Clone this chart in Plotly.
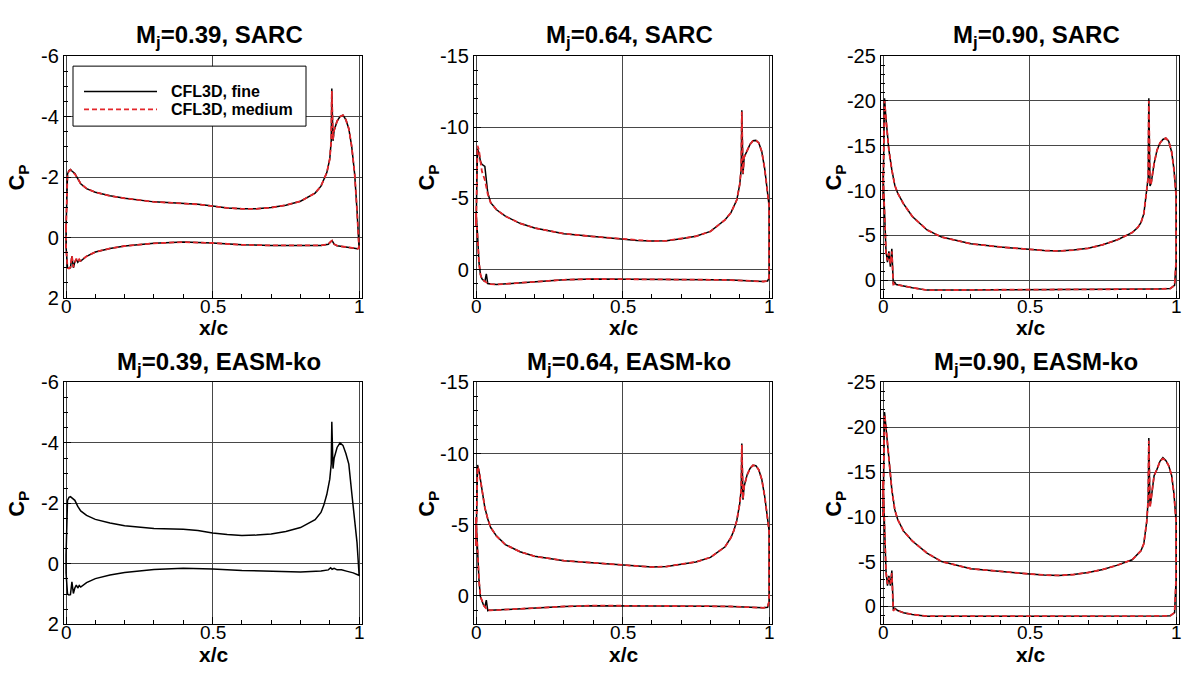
import plotly.graph_objects as go

W, H = 1183, 673
FONT = "Liberation Sans, Arial, Helvetica, sans-serif"

# Chordwise stations: upper surface (LE -> TE) and lower surface (TE -> LE)
XU = [0.0, 0.002, 0.005, 0.01, 0.015, 0.02, 0.03, 0.04, 0.05, 0.07, 0.1, 0.15, 0.2,
      0.3, 0.4, 0.45, 0.5, 0.55, 0.6, 0.65, 0.7, 0.75, 0.8, 0.85, 0.87, 0.88, 0.89,
      0.9, 0.905, 0.907, 0.911, 0.915, 0.925, 0.935, 0.945, 0.955, 0.965, 0.975,
      0.985, 0.993, 1.0]
XL = [1.0, 0.995, 0.98, 0.96, 0.94, 0.925, 0.915, 0.908, 0.903, 0.895, 0.87, 0.8,
      0.7, 0.6, 0.5, 0.4, 0.3, 0.2, 0.15, 0.1, 0.07, 0.05, 0.045, 0.04, 0.035, 0.03,
      0.025, 0.02, 0.015, 0.01, 0.005, 0.0]

# Mj = 0.39, SARC
CP_U_039_SARC_FINE = [-0.3, -1.5, -2.1, -2.22, -2.25, -2.2, -2.12, -1.95, -1.78, -1.62, -1.5,
                      -1.38, -1.3, -1.18, -1.14, -1.1, -1.04, -0.98, -0.95, -0.95, -0.99, -1.07,
                      -1.2, -1.47, -1.7, -1.9, -2.15, -2.6, -3.2, -4.93, -3.2, -3.55, -3.85,
                      -4.0, -4.05, -3.9, -3.6, -3.0, -2.1, -0.9, 0.3]
CP_L_039_SARC_FINE = [0.35, 0.37, 0.35, 0.33, 0.3, 0.27, 0.22, 0.1, 0.14, 0.22, 0.26, 0.27,
                      0.26, 0.24, 0.18, 0.15, 0.19, 0.28, 0.36, 0.48, 0.62, 0.78, 0.75, 0.82,
                      0.72, 0.8, 1.0, 0.62, 1.0, 1.02, 1.0, 0.3]
CP_U_039_SARC_MED = [-0.3, -1.5, -2.1, -2.2, -2.24, -2.18, -2.1, -1.95, -1.78, -1.62, -1.5,
                     -1.38, -1.3, -1.18, -1.14, -1.1, -1.04, -0.98, -0.95, -0.95, -0.99, -1.07,
                     -1.2, -1.47, -1.7, -1.9, -2.15, -2.6, -3.2, -4.85, -3.25, -3.55, -3.85,
                     -4.0, -4.05, -3.9, -3.6, -3.0, -2.1, -0.9, 0.3]
CP_L_039_SARC_MED = [0.35, 0.37, 0.35, 0.33, 0.3, 0.27, 0.22, 0.1, 0.14, 0.22, 0.26, 0.27,
                     0.26, 0.24, 0.18, 0.15, 0.19, 0.28, 0.36, 0.48, 0.62, 0.77, 0.72, 0.8,
                     0.7, 0.82, 0.98, 0.6, 0.98, 1.02, 1.0, 0.3]

# Mj = 0.64, SARC
CP_U_064_SARC_FINE = [-3.0, -7.0, -8.5, -8.2, -7.6, -7.4, -7.25, -5.4, -4.7, -4.2, -3.75,
                      -3.25, -2.92, -2.52, -2.32, -2.24, -2.14, -2.05, -2.0, -2.02, -2.16,
                      -2.34, -2.68, -3.5, -4.0, -4.4, -4.9, -6.0, -7.1, -11.2, -6.7, -7.9,
                      -8.35, -8.8, -9.05, -9.08, -8.9, -8.3, -7.1, -5.85, -4.5]
CP_L_064_SARC_FINE = [0.6, 0.8, 0.84, 0.82, 0.8, 0.78, 0.77, 0.76, 0.76, 0.75, 0.74, 0.72,
                      0.7, 0.68, 0.66, 0.66, 0.72, 0.85, 0.92, 0.98, 1.05, 1.02, 1.0, 0.98,
                      0.3, 0.85, 0.75, 0.65, 0.35, -0.5, -2.5, -4.0]
CP_U_064_SARC_MED = [-3.0, -7.0, -8.7, -8.4, -7.5, -6.9, -6.3, -5.3, -4.7, -4.2, -3.75,
                     -3.25, -2.92, -2.52, -2.32, -2.24, -2.14, -2.05, -2.0, -2.02, -2.16,
                     -2.34, -2.68, -3.5, -4.0, -4.4, -4.9, -6.0, -7.1, -11.1, -6.75, -7.9,
                     -8.35, -8.8, -9.05, -9.08, -8.9, -8.3, -7.1, -5.85, -4.5]
CP_L_064_SARC_MED = [0.6, 0.8, 0.84, 0.82, 0.8, 0.78, 0.77, 0.76, 0.76, 0.75, 0.74, 0.72,
                     0.7, 0.68, 0.66, 0.66, 0.72, 0.85, 0.92, 0.98, 1.05, 1.02, 1.0, 1.0,
                     0.9, 0.85, 0.75, 0.65, 0.35, -0.5, -2.5, -4.0]

# Mj = 0.90, SARC
CP_U_090_SARC_FINE = [-9.0, -16.0, -20.3, -18.0, -16.0, -14.5, -12.3, -10.6, -9.7, -8.5, -7.1,
                      -5.6, -4.8, -4.05, -3.7, -3.55, -3.4, -3.3, -3.25, -3.35, -3.55, -3.95,
                      -4.5, -5.3, -5.9, -6.4, -7.4, -9.8, -11.5, -20.3, -10.5, -10.8, -13.0,
                      -14.5, -15.3, -15.7, -15.85, -15.5, -14.3, -12.3, -9.5]
CP_L_090_SARC_FINE = [-2.0, 0.6, 0.95, 1.0, 1.0, 1.0, 1.0, 1.0, 1.0, 1.0, 1.02, 1.03, 1.05,
                      1.07, 1.07, 1.08, 1.1, 1.12, 1.12, 0.85, 0.7, 0.55, 0.5, 0.25, 0.45,
                      -3.5, -1.5, -3.2, -2.0, -3.3, -7.0, -12.0]
CP_U_090_SARC_MED = [-9.0, -16.0, -20.0, -18.0, -16.0, -14.5, -12.3, -10.6, -9.7, -8.5, -7.1,
                     -5.6, -4.8, -4.05, -3.7, -3.55, -3.4, -3.3, -3.25, -3.35, -3.55, -3.95,
                     -4.5, -5.3, -5.9, -6.4, -7.4, -9.8, -11.5, -20.0, -10.6, -10.8, -13.0,
                     -14.5, -15.3, -15.7, -15.85, -15.5, -14.3, -12.3, -9.5]
CP_L_090_SARC_MED = [-2.0, 0.6, 0.95, 1.0, 1.0, 1.0, 1.0, 1.0, 1.0, 1.0, 1.02, 1.03, 1.05,
                     1.07, 1.07, 1.08, 1.1, 1.12, 1.12, 0.85, 0.7, 0.55, 0.5, 0.45, 0.5,
                     -3.2, -1.8, -3.0, -2.2, -3.0, -7.0, -12.0]

# Mj = 0.39, EASM-ko
CP_U_039_EASM_FINE = [-0.3, -1.5, -2.1, -2.2, -2.22, -2.18, -2.1, -1.9, -1.75, -1.6, -1.47,
                      -1.35, -1.26, -1.17, -1.14, -1.1, -1.02, -0.97, -0.94, -0.95, -0.99, -1.07,
                      -1.2, -1.46, -1.7, -1.95, -2.3, -2.8, -3.3, -4.7, -3.15, -3.5, -3.85,
                      -4.0, -3.92, -3.65, -3.3, -2.35, -1.45, -0.7, 0.35]
CP_L_039_EASM_FINE = [0.38, 0.36, 0.3, 0.25, 0.2, 0.2, 0.15, 0.18, 0.13, 0.2, 0.24, 0.27,
                      0.25, 0.22, 0.17, 0.15, 0.19, 0.29, 0.37, 0.49, 0.62, 0.77, 0.72, 0.8,
                      0.7, 0.8, 0.98, 0.6, 1.02, 1.03, 1.0, 0.3]

# Mj = 0.64, EASM-ko
CP_U_064_EASM_FINE = [-3.5, -7.5, -9.2, -8.8, -8.1, -7.4, -6.2, -5.4, -4.8, -4.2, -3.6, -3.1,
                      -2.78, -2.47, -2.31, -2.22, -2.13, -2.05, -2.02, -2.06, -2.2, -2.38, -2.7,
                      -3.45, -4.1, -4.6, -5.3, -6.5, -7.5, -10.7, -6.75, -7.7, -8.5, -8.95,
                      -9.18, -9.15, -8.85, -8.2, -7.0, -5.7, -4.6]
CP_L_064_EASM_FINE = [0.4, 0.8, 0.84, 0.82, 0.8, 0.8, 0.78, 0.77, 0.77, 0.76, 0.75, 0.73,
                      0.71, 0.7, 0.68, 0.69, 0.75, 0.86, 0.92, 0.98, 1.04, 1.02, 1.0, 1.04,
                      0.3, 0.8, 0.63, 0.3, 0.07, -1.1, -3.8, -5.5]
CP_U_064_EASM_MED = [-3.5, -7.5, -9.1, -8.8, -8.1, -7.4, -6.2, -5.4, -4.8, -4.2, -3.6, -3.1,
                     -2.78, -2.47, -2.31, -2.22, -2.13, -2.05, -2.02, -2.06, -2.2, -2.38, -2.7,
                     -3.45, -4.1, -4.6, -5.3, -6.5, -7.5, -10.6, -6.8, -7.7, -8.5, -8.95,
                     -9.18, -9.15, -8.85, -8.2, -7.0, -5.7, -4.6]
CP_L_064_EASM_MED = [0.4, 0.8, 0.84, 0.82, 0.8, 0.8, 0.78, 0.77, 0.77, 0.76, 0.75, 0.73,
                     0.71, 0.7, 0.68, 0.69, 0.75, 0.86, 0.92, 0.98, 1.04, 1.02, 1.0, 1.04,
                     0.9, 0.8, 0.63, 0.3, 0.07, -1.1, -3.8, -5.5]

# Mj = 0.90, EASM-ko
CP_U_090_EASM_FINE = [-10.0, -17.0, -21.7, -20.0, -18.0, -16.0, -13.0, -10.8, -9.7, -8.4, -7.3,
                      -5.95, -5.0, -4.2, -3.88, -3.75, -3.62, -3.5, -3.45, -3.55, -3.78, -4.12,
                      -4.6, -5.2, -5.9, -6.2, -7.0, -9.5, -12.0, -18.8, -11.2, -12.0, -14.6,
                      -15.3, -16.2, -16.6, -16.3, -15.7, -14.6, -12.5, -9.5]
CP_L_090_EASM_FINE = [-3.0, 0.7, 1.05, 1.08, 1.08, 1.08, 1.08, 1.08, 1.08, 1.08, 1.08, 1.08,
                      1.08, 1.1, 1.1, 1.1, 1.12, 1.12, 1.1, 0.9, 0.72, 0.47, 0.35, 0.2, 0.3,
                      -4.0, -2.3, -3.4, -2.3, -4.0, -9.0, -14.0]
CP_U_090_EASM_MED = [-10.0, -17.0, -21.4, -20.0, -18.0, -16.0, -13.0, -10.8, -9.7, -8.4, -7.3,
                     -5.95, -5.0, -4.2, -3.88, -3.75, -3.62, -3.5, -3.45, -3.55, -3.78, -4.12,
                     -4.6, -5.2, -5.9, -6.2, -7.0, -9.5, -12.0, -18.5, -11.0, -12.0, -14.6,
                     -15.3, -16.2, -16.5, -16.3, -15.7, -14.6, -12.5, -9.5]
CP_L_090_EASM_MED = [-3.0, 0.7, 1.05, 1.08, 1.08, 1.08, 1.08, 1.08, 1.08, 1.08, 1.08, 1.08,
                     1.08, 1.1, 1.1, 1.1, 1.12, 1.12, 1.1, 0.9, 0.72, 0.47, 0.4, 0.3, 0.5,
                     -3.7, -2.5, -3.2, -2.5, -3.8, -9.0, -14.0]

TITLES = ["M<sub>j</sub>=0.39, SARC", "M<sub>j</sub>=0.64, SARC", "M<sub>j</sub>=0.90, SARC",
          "M<sub>j</sub>=0.39, EASM-ko", "M<sub>j</sub>=0.64, EASM-ko", "M<sub>j</sub>=0.90, EASM-ko"]

# tick positions and labels (plain hyphen for negatives)
X_TICKS = [0, 0.5, 1]
X_TICKTEXT = ["0", "0.5", "1"]
Y_TICKS = [[-6, -4, -2, 0, 2], [-15, -10, -5, 0], [-25, -20, -15, -10, -5, 0]]
Y_TICKTEXT = [["-6", "-4", "-2", "0", "2"], ["-15", "-10", "-5", "0"],
              ["-25", "-20", "-15", "-10", "-5", "0"]]
Y_RANGES = [[2, -6], [2, -15], [2, -25]]
Y_MINOR = [0.5, 1, 1]

PANELS = [
    (CP_U_039_SARC_FINE, CP_L_039_SARC_FINE, CP_U_039_SARC_MED, CP_L_039_SARC_MED),
    (CP_U_064_SARC_FINE, CP_L_064_SARC_FINE, CP_U_064_SARC_MED, CP_L_064_SARC_MED),
    (CP_U_090_SARC_FINE, CP_L_090_SARC_FINE, CP_U_090_SARC_MED, CP_L_090_SARC_MED),
    (CP_U_039_EASM_FINE, CP_L_039_EASM_FINE, None, None),
    (CP_U_064_EASM_FINE, CP_L_064_EASM_FINE, CP_U_064_EASM_MED, CP_L_064_EASM_MED),
    (CP_U_090_EASM_FINE, CP_L_090_EASM_FINE, CP_U_090_EASM_MED, CP_L_090_EASM_MED),
]

# panel frames in pixels
COL_LEFT = [64, 474, 881]
PW = 298
ROW_TOP = [46.7, 384]
PH = 250

RED = "#e3262b"
GRID = "#474747"


def closed_loop(up, lo):
    xs = XU + XL + [XU[0]]
    ys = up + lo + [up[0]]
    return xs, ys


fig = go.Figure()
annotations = []
layout_axes = {}

for i, (cu, cl, mu, ml) in enumerate(PANELS):
    r, c = divmod(i, 3)
    n = i + 1
    xa = "x" if n == 1 else f"x{n}"
    ya = "y" if n == 1 else f"y{n}"
    left, top = COL_LEFT[c], ROW_TOP[r]

    xs, ys = closed_loop(cu, cl)
    fig.add_trace(go.Scatter(x=xs, y=ys, mode="lines", xaxis=xa, yaxis=ya,
                             line=dict(color="black", width=1.5), showlegend=False,
                             name="CFL3D, fine"))
    if mu is not None:
        xs, ys = closed_loop(mu, ml)
        fig.add_trace(go.Scatter(x=xs, y=ys, mode="lines", xaxis=xa, yaxis=ya,
                                 line=dict(color=RED, width=1.8, dash="5px,3px"),
                                 showlegend=False, name="CFL3D, medium"))

    axis_common = dict(showline=True, mirror=True, linecolor="black", linewidth=1.3,
                       ticks="inside", tickcolor="black", tickwidth=1, ticklen=7,
                       showgrid=True, gridcolor=GRID, gridwidth=1.3, zeroline=False,
                       tickmode="array")
    layout_axes["xaxis" if n == 1 else f"xaxis{n}"] = dict(
        axis_common, domain=[left / W, (left + PW) / W], anchor=ya,
        range=[-0.007, 1.01], tickvals=X_TICKS, ticktext=X_TICKTEXT,
        showticklabels=False,
        minor=dict(tickmode="linear", dtick=0.1, tick0=0, ticks="inside", ticklen=4,
                   tickcolor="black", showgrid=False))
    layout_axes["yaxis" if n == 1 else f"yaxis{n}"] = dict(
        axis_common, domain=[1 - (top + PH) / H, 1 - top / H], anchor=xa,
        range=Y_RANGES[c], tickvals=Y_TICKS[c], ticktext=Y_TICKTEXT[c],
        tickfont=dict(family=FONT, size=20, color="black"),
        minor=dict(tickmode="linear", dtick=Y_MINOR[c], tick0=0, ticks="inside",
                   ticklen=4, tickcolor="black", showgrid=False))

    # x tick labels set snugly under the frame
    for tv, tt in zip(X_TICKS, X_TICKTEXT):
        annotations.append(dict(text=tt, xref=xa, yref="paper", x=tv,
                                y=1 - (top + PH + 9) / H, xanchor="center",
                                yanchor="middle", showarrow=False,
                                font=dict(family=FONT, size=19, color="black")))

    cx = left + PW / 2
    annotations.append(dict(text=f"<b>{TITLES[i]}</b>", xref="paper", yref="paper",
                            x=(cx + 6) / W, y=1 - (top - 20) / H, xanchor="center",
                            yanchor="middle", showarrow=False,
                            font=dict(family=FONT, size=24, color="black")))
    annotations.append(dict(text="<b>x/c</b>", xref="paper", yref="paper",
                            x=(cx + 1) / W, y=1 - (top + PH + 31) / H, xanchor="center",
                            yanchor="middle", showarrow=False,
                            font=dict(family=FONT, size=21, color="black")))
    annotations.append(dict(text="<b>C<sub>P</sub></b>", xref="paper", yref="paper",
                            x=(left - 45.5) / W, y=1 - (top + PH / 2 + 1) / H,
                            xanchor="center", yanchor="middle", textangle=-90,
                            showarrow=False,
                            font=dict(family=FONT, size=22, color="black")))


# legend box inside the first panel
def px(xp):
    return xp / W


def py(yp):
    return 1 - yp / H


shapes = [
    dict(type="rect", xref="paper", yref="paper", x0=px(73), x1=px(306), y0=py(119),
         y1=py(57), fillcolor="white", line=dict(color="black", width=1), layer="above"),
    dict(type="line", xref="paper", yref="paper", x0=px(84), x1=px(157), y0=py(83.3),
         y1=py(83.3), line=dict(color="black", width=1.5), layer="above"),
    dict(type="line", xref="paper", yref="paper", x0=px(84), x1=px(157), y0=py(101.7),
         y1=py(101.7), line=dict(color=RED, width=1.8, dash="5px,3px"), layer="above"),
]
annotations.append(dict(text="<b>CFL3D, fine</b>", xref="paper", yref="paper", x=px(169),
                        y=py(83.3), xanchor="left", yanchor="middle", showarrow=False,
                        font=dict(family=FONT, size=16, color="black")))
annotations.append(dict(text="<b>CFL3D, medium</b>", xref="paper", yref="paper", x=px(169),
                        y=py(101.7), xanchor="left", yanchor="middle", showarrow=False,
                        font=dict(family=FONT, size=16, color="black")))

fig.update_layout(width=W, height=H, margin=dict(l=0, r=0, t=0, b=0),
                  paper_bgcolor="white", plot_bgcolor="white", showlegend=False,
                  annotations=annotations, shapes=shapes, **layout_axes)

fig.write_html("out.html")
